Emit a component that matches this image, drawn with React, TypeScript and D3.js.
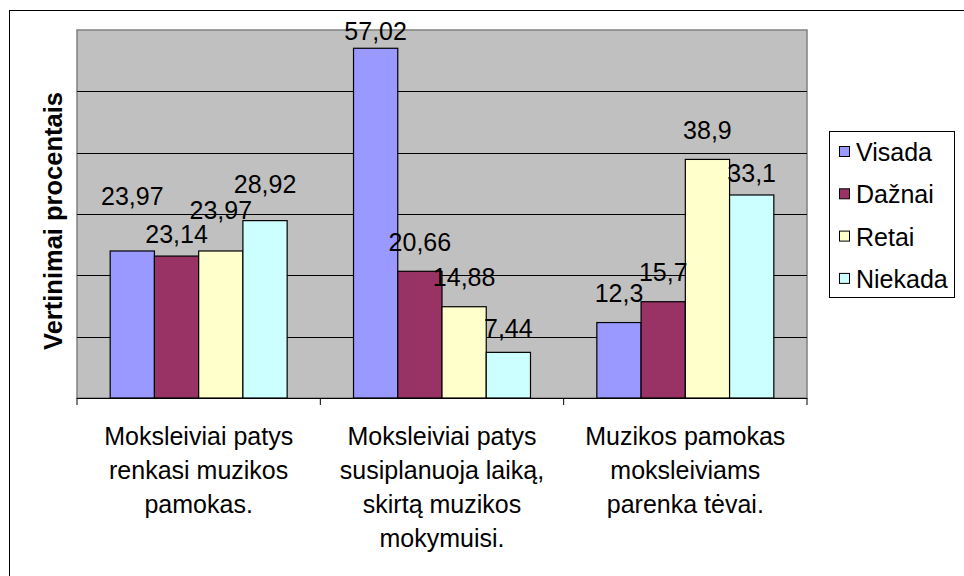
import React from 'react';
import * as d3 from 'd3';

const categories = [
  ['Moksleiviai patys', 'renkasi muzikos', 'pamokas.'],
  ['Moksleiviai patys', 'susiplanuoja laiką,', 'skirtą muzikos', 'mokymuisi.'],
  ['Muzikos pamokas', 'moksleiviams', 'parenka tėvai.'],
];
const seriesNames = ['Visada', 'Dažnai', 'Retai', 'Niekada'];
const visada = [23.97, 57.02, 12.3];
const daznai = [23.14, 20.66, 15.7];
const retai = [23.97, 14.88, 38.9];
const niekada = [28.92, 7.44, 33.1];
const yTicks = [0, 10, 20, 30, 40, 50, 60];

const colors = ['#9999ff', '#993366', '#ffffcc', '#ccffff'];
// extra lift of each data label (px), per category then series, as placed in the original
const labelLift = [
  [26, -7, 12, 8],
  [-12, 0, 1, -5],
  [1, 1, 0, -7],
];

const W = 964;
const H = 576;
const plot = { left: 77, right: 807, top: 30, bottom: 398 };
const font = '"Liberation Sans", Arial, sans-serif';

const fmt = (v: number) => String(v).replace('.', ',');

export default function App() {
  const series = [visada, daznai, retai, niekada];

  const x0 = d3
    .scaleBand<number>()
    .domain(categories.map((_, i) => i))
    .range([plot.left, plot.right])
    .padding(0);
  // Excel gap width 150%: group occupies 4 / 5.5 of the band
  const gap = x0.bandwidth() * (1.5 / 5.5);
  const x1 = d3
    .scaleBand<number>()
    .domain(seriesNames.map((_, i) => i))
    .range([gap / 2, x0.bandwidth() - gap / 2])
    .padding(0);
  const y = d3.scaleLinear().domain([0, 60]).range([plot.bottom, plot.top]);

  const tickXs = [...categories.map((_, i) => x0(i)!), plot.right];

  return (
    <svg
      width={W}
      height={H}
      style={{ position: 'absolute', left: 0, top: 0, background: '#fff' }}
      fontFamily={font}
    >
      {/* chart area border (only top and left visible) */}
      <rect x={9.5} y={10.5} width={1200} height={1200} fill="#fff" stroke="#000" />

      {/* plot area */}
      <rect
        x={plot.left}
        y={plot.top}
        width={plot.right - plot.left}
        height={plot.bottom - plot.top}
        fill="#c0c0c0"
        stroke="#808080"
        strokeWidth={1.5}
      />
      {yTicks
        .filter((t) => t > 0 && t < 60)
        .map((t) => (
          <line
            key={t}
            x1={plot.left}
            x2={plot.right}
            y1={Math.round(y(t)) + 0.5}
            y2={Math.round(y(t)) + 0.5}
            stroke="#000"
          />
        ))}

      {/* bars */}
      {categories.map((_, ci) =>
        series.map((vals, si) => (
          <rect
            key={`${ci}-${si}`}
            x={x0(ci)! + x1(si)!}
            y={y(vals[ci])}
            width={x1.bandwidth()}
            height={plot.bottom - y(vals[ci])}
            fill={colors[si]}
            stroke="#000"
            strokeWidth={1.2}
          />
        ))
      )}

      {/* x axis */}
      <line x1={plot.left} x2={plot.right} y1={plot.bottom + 0.5} y2={plot.bottom + 0.5} stroke="#000" />
      {tickXs.map((tx, i) => (
        <line key={i} x1={tx} x2={tx} y1={plot.bottom} y2={plot.bottom + 7} stroke="#000" />
      ))}

      {/* data labels */}
      {categories.map((_, ci) =>
        series.map((vals, si) => (
          <text
            key={`l${ci}-${si}`}
            x={x0(ci)! + x1(si)! + x1.bandwidth() / 2}
            y={y(vals[ci]) - 20 - labelLift[ci][si]}
            textAnchor="middle"
            fontSize={25}
            fill="#000"
          >
            {fmt(vals[ci])}
          </text>
        ))
      )}

      {/* category labels */}
      {categories.map((lines, ci) => (
        <text
          key={`c${ci}`}
          x={x0(ci)! + x0.bandwidth() / 2}
          y={445}
          textAnchor="middle"
          fontSize={25}
          fill="#000"
        >
          {lines.map((ln, li) => (
            <tspan key={li} x={x0(ci)! + x0.bandwidth() / 2} dy={li === 0 ? 0 : 34}>
              {ln}
            </tspan>
          ))}
        </text>
      ))}

      {/* y axis title */}
      <text
        transform={`translate(62, ${(plot.top + plot.bottom) / 2 + 7}) rotate(-90)`}
        textAnchor="middle"
        fontSize={25.5}
        fontWeight="bold"
        fill="#000"
      >
        Vertinimai procentais
      </text>

      {/* legend */}
      <g>
        <rect x={829.5} y={131.5} width={125} height={166} fill="#fff" stroke="#000" />
        {seriesNames.map((name, si) => {
          const cy = 152 + si * 42.3;
          return (
            <g key={name}>
              <rect x={839.5} y={cy - 5.5} width={10} height={10} fill={colors[si]} stroke="#000" />
              <text x={856} y={cy + 9} fontSize={25} fill="#000">
                {name}
              </text>
            </g>
          );
        })}
      </g>
    </svg>
  );
}
